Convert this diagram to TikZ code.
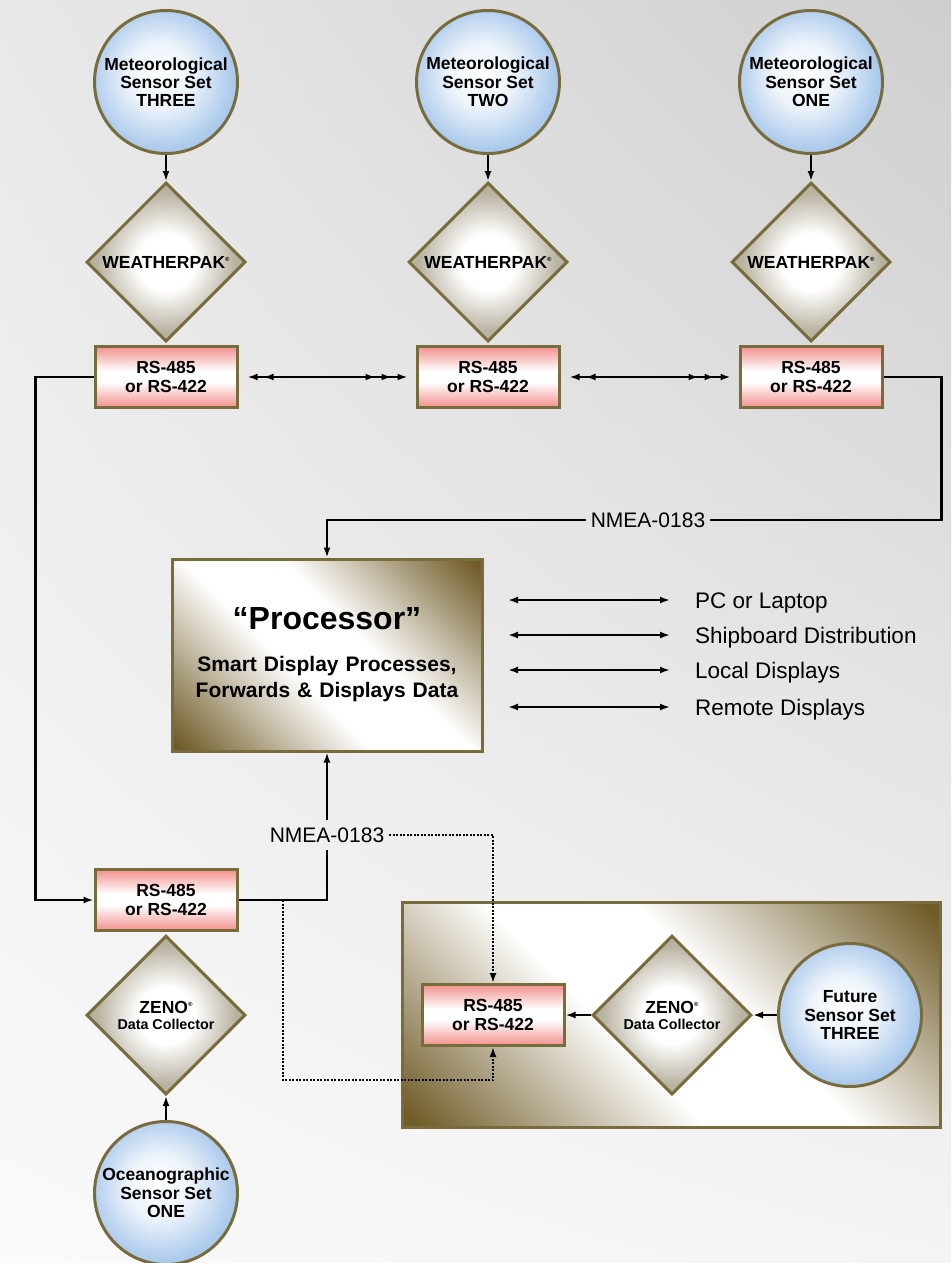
\documentclass[tikz,border=0pt]{standalone}
\usepackage{fontspec}
\setmainfont{Liberation Sans}
\usepackage{xcolor}
\usetikzlibrary{shapes.geometric,arrows.meta,positioning,calc,shadings}

\definecolor{olivedge}{RGB}{120,108,60}
\definecolor{skyblue}{RGB}{172,202,236}
\definecolor{skypale}{RGB}{238,244,251}
\definecolor{pakgray}{RGB}{184,178,160}
\definecolor{rspink}{RGB}{242,150,146}
\definecolor{bronze}{RGB}{112,92,40}
\definecolor{bgul}{RGB}{232,232,232}
\definecolor{bgur}{RGB}{206,206,206}
\definecolor{bgll}{RGB}{250,250,250}
\definecolor{bglr}{RGB}{244,244,244}

\pgfdeclareradialshading{sensorshade}{\pgfpoint{-3bp}{3bp}}{color(0bp)=(white); color(11bp)=(skypale); color(25bp)=(skyblue); color(50bp)=(skyblue)}
\pgfdeclareradialshading{pakshade}{\pgfpoint{0bp}{0bp}}{color(0bp)=(white); color(9bp)=(white); color(22bp)=(pakgray); color(50bp)=(pakgray)}
\pgfdeclareverticalshading{rsshade}{100bp}{color(0bp)=(rspink); color(26bp)=(rspink); color(46bp)=(white); color(55bp)=(white); color(74bp)=(rspink); color(100bp)=(rspink)}
\pgfdeclarehorizontalshading{panelshade}{100bp}{color(0bp)=(bronze); color(16bp)=(bronze); color(43bp)=(white); color(57bp)=(white); color(84bp)=(bronze); color(100bp)=(bronze)}

\newcommand{\sensfont}{\bfseries\fontsize{17.5}{18.3}\selectfont}
\newcommand{\regd}{\raisebox{0.75ex}{\fontsize{6}{6}\selectfont\textregistered}}
\newcommand{\zenotext}{ZENO\regd\\[-2.3pt]{\fontsize{14.3}{15}\selectfont Data Collector}}

\begin{document}
\begin{tikzpicture}[x=1pt, y=-1pt,
    sensor/.style={circle, draw=olivedge, line width=3pt, shade, shading=sensorshade,
        minimum size=143pt, inner sep=0pt, align=center, font=\sensfont},
    pak/.style={diamond, draw=olivedge, line width=3pt, shade, shading=pakshade,
        minimum width=159pt, minimum height=159pt, inner sep=0pt, align=center, font=\sensfont},
    rsbox/.style={rectangle, draw=olivedge, line width=3pt, shade, shading=rsshade,
        minimum width=142pt, minimum height=61pt, inner sep=0pt, align=center, font=\sensfont},
    panel/.style={rectangle, draw=olivedge, line width=3pt, shade, shading=panelshade, shading angle=45},
    wire/.style={line width=2.2pt},
    link/.style={wire, -{Latex[length=10pt,width=7pt]}},
    dots/.style={line width=2pt, dash pattern=on 2pt off 1.5pt, -{Latex[length=10pt,width=7pt]}},
    bus/.style={line width=2pt,
        {Latex[length=10pt,width=7pt,sep=6pt]Latex[length=10pt,width=7pt,sep=6pt]}-{Latex[length=10pt,width=7pt,sep=6pt]Latex[length=10pt,width=7pt,sep=6pt]Latex[length=10pt,width=7pt,sep=6pt]},
        shorten <=3pt, shorten >=2pt},
    twoway/.style={line width=2pt, {Latex[length=10pt,width=7pt]}-{Latex[length=10pt,width=7pt]}},
    nmea/.style={font=\fontsize{21}{21}\selectfont, text height=15pt, text depth=0pt, inner xsep=5pt, inner ysep=7pt},
    dest/.style={font=\fontsize{22.5}{22.5}\selectfont, text height=16pt, text depth=0pt, inner sep=0pt, anchor=west}]

    % Page size and background
    \useasboundingbox (0,0) rectangle (951,1263);
    \shade[upper left=bgul, upper right=bgur, lower left=bgll, lower right=bglr] (0,0) rectangle (951,1263);

    % Meteorological sensor sets, one column each
    \foreach \n/\x/\word in {3/166/THREE, 2/488/TWO, 1/811/ONE} {
        \node[sensor] (met\n) at (\x,82) {Meteorological\\Sensor Set\\\word};
        \node[pak] (wpak\n) at (\x,262) {WEATHERPAK\regd};
        \node[rsbox] (rs\n) at (\x,377) {RS-485\\or RS-422};
        \draw[link] (met\n) -- (wpak\n);
    }

    % RS-485 bus between the masts
    \draw[bus] (rs3.east) -- (rs2.west);
    \draw[bus] (rs2.east) -- (rs1.west);

    % Processor
    \node[panel, minimum width=310pt, minimum height=192pt, text width=300pt, align=center,
          font=\bfseries\fontsize{21}{26.5}\selectfont] (proc) at (327,655)
        {{\fontsize{32}{32}\selectfont “Processor”}\\[15pt]Smart Display Processes,\\Forwards \& Displays Data};

    % Outputs of the processor
    \foreach \i/\y/\dest in {1/600/PC or Laptop, 2/635/Shipboard Distribution, 3/670/Local Displays, 4/707/Remote Displays} {
        \coordinate (out\i) at (508,\y);
        \node[dest] (dest\i) at (695,\y) {\dest};
        \draw[twoway, shorten >=25pt] (out\i) -- (dest\i.west);
    }

    % NMEA-0183 from mast ONE down to the processor
    \node[nmea] (nmea1) at (648,520) {NMEA-0183};
    \draw[wire] (rs1.east) -- ++(58,0) |- (nmea1.east);
    \draw[link] (nmea1.west) -| (proc.north);

    % Oceanographic column
    \node[rsbox] (rs4) at (166,900) {RS-485\\or RS-422};
    \node[pak] (zeno1) at (166,1015) {\zenotext};
    \node[sensor] (ocean) at (166,1193) {Oceanographic\\Sensor Set\\ONE};
    \draw[link] (ocean) -- (zeno1);
    \draw[link] (rs3.west) -- ++(-58,0) |- (rs4.west);

    % NMEA-0183 up to the processor
    \node[nmea] (nmea2) at (327,835) {NMEA-0183};
    \draw[wire] (rs4.east) -| (nmea2.south);
    \draw[link] (nmea2.north) -- (proc.south);

    % Future sensor set group
    \node[panel, minimum width=538pt, minimum height=225pt] (future) at (671.5,1015) {};
    \node[rsbox] (rs5) at (493,1015) {RS-485\\or RS-422};
    \node[pak] (zeno2) at (672,1015) {\zenotext};
    \node[sensor] (fut) at (850,1015) {Future\\Sensor Set\\THREE};
    \draw[link] (fut) -- (zeno2);
    \draw[link] (zeno2) -- (rs5);

    % Dotted links to the future set
    \coordinate (tap) at (283,900);
    \draw[dots] (nmea2.east) -| (rs5.north);
    \draw[dots] (tap) |- ([yshift=-33pt]rs5.south) -- (rs5.south);
\end{tikzpicture}
\end{document}
